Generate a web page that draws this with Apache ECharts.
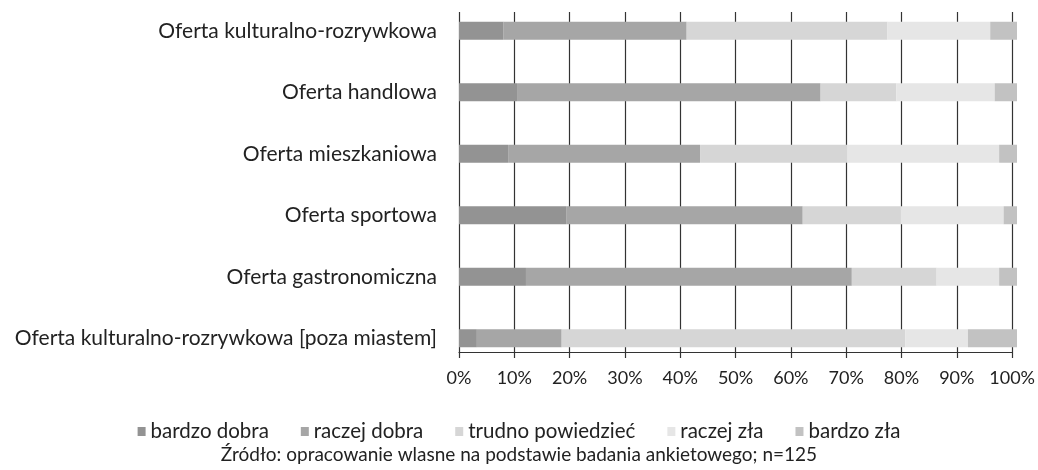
<!DOCTYPE html>
<html>
<head>
<meta charset="utf-8">
<script src="https://cdn.jsdelivr.net/npm/echarts@6/dist/echarts.min.js"></script>
<style>
  html, body { margin: 0; padding: 0; background: #fff; }
  #chart { width: 1038px; height: 470px; }
</style>
</head>
<body>
<div id="chart"></div>
<script>
// kategorie (od gory)
const categories = [
  'Oferta kulturalno-rozrywkowa',
  'Oferta handlowa',
  'Oferta mieszkaniowa',
  'Oferta sportowa',
  'Oferta gastronomiczna',
  'Oferta kulturalno-rozrywkowa [poza miastem]'
]
const seriesNames = ['bardzo dobra', 'raczej dobra', 'trudno powiedzieć', 'raczej zła', 'bardzo zła']

// udzialy w % (n=125)
const bardzoDobra = [8, 10.4, 8.8, 19.2, 12, 3.2]
const raczejDobra = [32.8, 54.4, 34.4, 42.4, 58.4, 15.2]
const trudnoPowiedziec = [36, 13.6, 26.4, 17.6, 15.2, 61.6]
const raczejZla = [18.4, 17.6, 27.2, 18.4, 11.2, 11.2]
const bardzoZla = [4.8, 4, 3.2, 2.4, 3.2, 8.8]

const tickValues = [0, 10, 20, 30, 40, 50, 60, 70, 80, 90, 100]

const values = [bardzoDobra, raczejDobra, trudnoPowiedziec, raczejZla, bardzoZla]
const colors = ['#939393', '#a6a6a6', '#d6d6d6', '#e6e6e6', '#c2c2c2']
const font = 'Lato'

const chart = echarts.init(document.getElementById('chart'))

chart.setOption({
  animation: false,
  color: colors,
  textStyle: { fontFamily: font },
  grid: [
    // slupki
    { left: 459, right: 21, top: -4, height: 373 },
    // siatka i os wartosci
    { left: 459, right: 21, top: 12, bottom: 118 }
  ],
  legend: {
    bottom: 23,
    left: 'center',
    itemWidth: 8,
    itemHeight: 9,
    itemGap: 32,
    icon: 'rect',
    textStyle: { fontSize: 20.5, color: '#222', fontFamily: font },
    data: seriesNames
  },
  title: {
    text: 'Źródło: opracowanie wlasne na podstawie badania ankietowego; n=125',
    left: 'center',
    bottom: 1,
    textStyle: { fontSize: 19, fontWeight: 'normal', color: '#222', fontFamily: font }
  },
  xAxis: [
    { gridIndex: 0, type: 'value', min: 0, max: 100, show: false },
    {
      gridIndex: 1,
      type: 'value',
      min: 0,
      max: 100,
      interval: 10,
      axisLine: { show: true, lineStyle: { color: '#333', width: 1.2 } },
      axisTick: { show: true, length: 6, lineStyle: { color: '#333', width: 1.2 } },
      splitLine: { show: true, lineStyle: { color: '#333', width: 1.2 } },
      axisLabel: {
        margin: 17,
        fontSize: 18,
        color: '#222',
        formatter: v => (tickValues.includes(v) ? v + '%' : '')
      }
    }
  ],
  yAxis: [
    {
      gridIndex: 0,
      type: 'category',
      inverse: true,
      data: categories,
      axisLine: { show: false },
      axisTick: { show: false },
      axisLabel: { margin: 22, fontSize: 21, color: '#222' }
    },
    {
      gridIndex: 1,
      type: 'category',
      data: categories,
      show: false
    }
  ],
  series: seriesNames.map((name, i) => ({
    name: name,
    type: 'bar',
    stack: 'total',
    xAxisIndex: 0,
    yAxisIndex: 0,
    barWidth: 18,
    data: values[i],
    itemStyle: { color: colors[i] }
  }))
})
</script>
</body>
</html>
